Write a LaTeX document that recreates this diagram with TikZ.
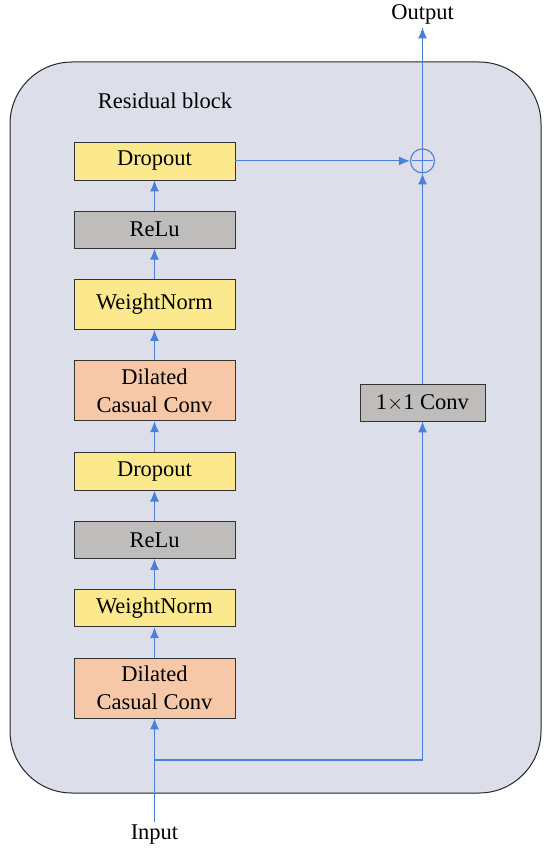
\documentclass[tikz,border=0pt]{standalone}
\usepackage{fontspec}
\setmainfont{Liberation Serif}
\usepackage{tikz}
\usetikzlibrary{arrows.meta,positioning}

\definecolor{blockbg}{HTML}{DCDEEA}
\definecolor{normfill}{HTML}{FCE88D}
\definecolor{relufill}{HTML}{BFBDBB}
\definecolor{convfill}{HTML}{F6C8A8}
\definecolor{flow}{HTML}{4A7FDA}

\tikzset{
  layer/.style={draw=black!80,line width=0.8pt,minimum width=161pt,
    inner sep=3pt,align=center,font=\fontsize{22.5}{28}\selectfont},
  normbox/.style={layer,fill=normfill,minimum height=37pt},
  relubox/.style={layer,fill=relufill,minimum height=37pt},
  convbox/.style={layer,fill=convfill,minimum height=60pt},
  label/.style={font=\fontsize{22.5}{28}\selectfont},
  flowline/.style={draw=flow,line width=1.1pt,-{Latex[length=11pt,width=9pt]}}
}

\begin{document}
\begin{tikzpicture}[x=1pt,y=1pt,node distance=30.5pt,
    every edge/.style={flowline}]

\useasboundingbox (0,0) rectangle (550,-856);

% block background
\path[fill=blockbg,draw=black!85,line width=1pt,rounded corners=62pt]
    (10,-62) rectangle (541,-793);
\node[label] (title) at (165,-101) {Residual block};

% layer stack
\node[convbox] (conv_1) at (154.5,-688) {Dilated\\Casual Conv};
\node[normbox] (norm_1) [above=of conv_1] {WeightNorm};
\node[relubox] (relu_1) [above=of norm_1] {ReLu};
\node[normbox,minimum height=38pt] (drop_1) [above=of relu_1] {Dropout};
\node[convbox] (conv_2) [above=of drop_1] {Dilated\\Casual Conv};
\node[normbox,minimum height=50pt] (norm_2) [above=of conv_2] {WeightNorm};
\node[relubox] (relu_2) [above=of norm_2] {ReLu};
\node[normbox,minimum height=38pt] (drop_2) [above=of relu_2] {Dropout};

% shortcut
\node[relubox,minimum width=125pt] (conv_11) at (422.5,-402.5) {1$\times$1 Conv};
\node[circle,draw=flow,line width=1.1pt,minimum size=24pt,inner sep=0pt]
    (add) at (conv_11 |- drop_2) {};
\draw[flowline,-,shorten <=2pt,shorten >=2pt]
    (add.north) -- (add.south) (add.west) -- (add.east);

\node[label] (input) at (154.5,-835) {Input};
\node[label] (output) at (422.5,-14) {Output};
\coordinate (split) at (154.5,-760);

\path
    (input) edge (conv_1)
    (conv_1) edge (norm_1)
    (norm_1) edge (relu_1)
    (relu_1) edge (drop_1)
    (drop_1) edge (conv_2)
    (conv_2) edge (norm_2)
    (norm_2) edge (relu_2)
    (relu_2) edge (drop_2)
    (drop_2) edge (add)
    (conv_11) edge (add)
    (add) edge (output);
\draw[flowline] (split) -| (conv_11);

\end{tikzpicture}
\end{document}
